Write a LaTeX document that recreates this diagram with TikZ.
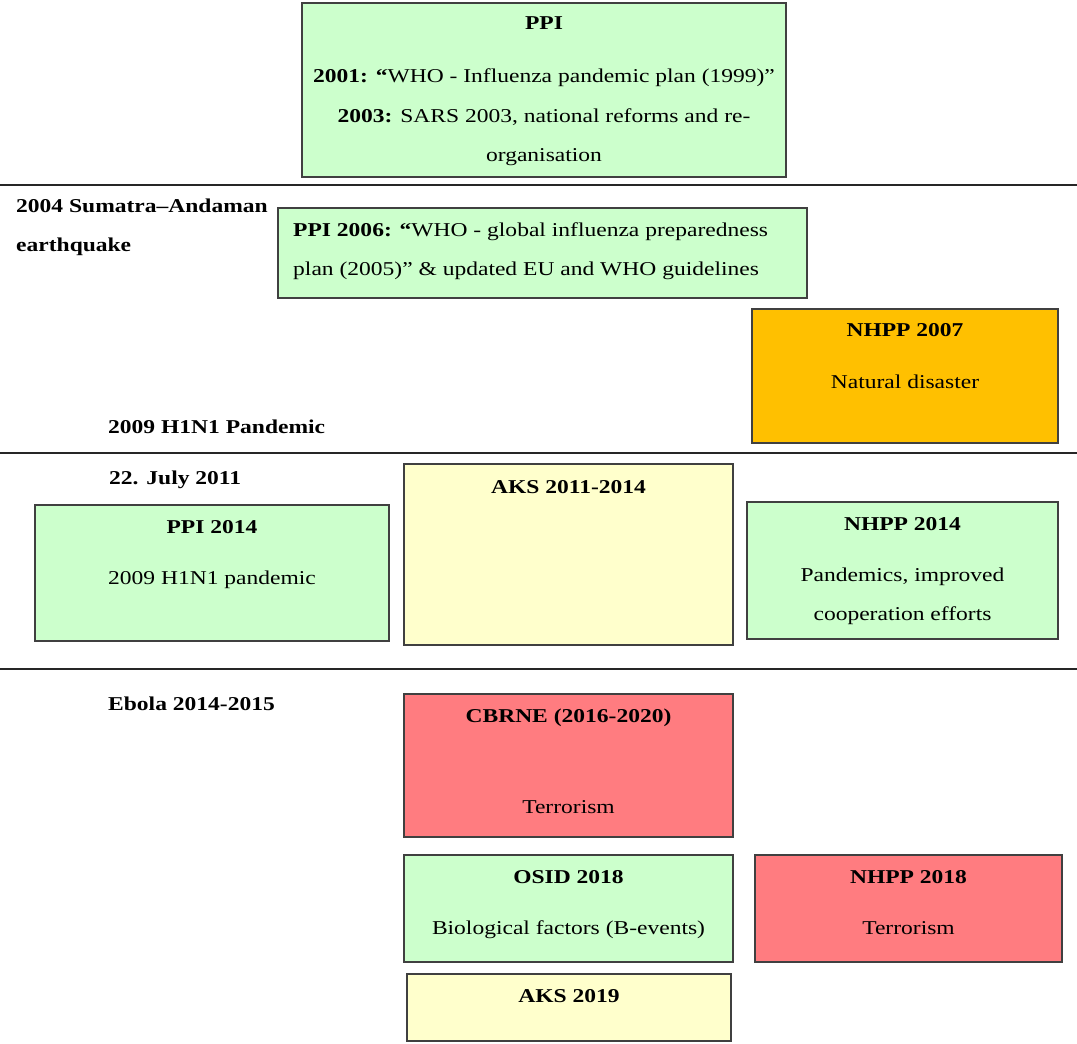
\documentclass[tikz,border=0pt]{standalone}
\usepackage{fontspec}
\setmainfont{Liberation Serif}[FakeStretch=1.2]
\usepackage{tikz}
\usetikzlibrary{positioning}
\definecolor{plangreen}{HTML}{CCFFCC}
\definecolor{planyellow}{HTML}{FFFFCC}
\definecolor{planorange}{HTML}{FFC000}
\definecolor{planred}{HTML}{FF7C80}
\definecolor{frame}{HTML}{404040}

\begin{document}
\begin{tikzpicture}[x=1pt, y=1pt,
  planbox/.style={draw=frame, line width=1.2pt, inner sep=0pt, outer sep=0pt},
  head/.style={anchor=base, inner sep=0pt, font=\fontsize{19.6}{40}\selectfont\bfseries},
  body/.style={anchor=base, inner sep=0pt, font=\fontsize{19.6}{40}\selectfont},
  event/.style={anchor=base west, inner sep=0pt, font=\fontsize{19.6}{40}\selectfont\bfseries},
  period/.style={line width=2pt, black!85}]
\useasboundingbox (0,0) rectangle (1077,-1044);

% Period 1: before 2004
\node[planbox, fill=plangreen, minimum width=484, minimum height=174] (ppi) at (544,-90) {};
\node[head] (ppiT) at ([yshift=-27]ppi.north) {PPI};
\node[body] (ppiA) at ([yshift=-79]ppi.north) {\textbf{2001: “}WHO - Influenza pandemic plan (1999)”};
\node[body] (ppiB) at ([yshift=-119]ppi.north) {\textbf{2003:} SARS 2003, national reforms and re-};
\node[body] (ppiC) at ([yshift=-158]ppi.north) {organisation};

\draw[period] (0,-185) -- (1077,-185);

% Period 2: 2004 -- 2009
\node[event] (sumatra) at (16,-212) {2004 Sumatra–Andaman};
\node[event] (quake) at (16,-251) {earthquake};
\node[planbox, fill=plangreen, minimum width=529, minimum height=90] (ppi06) at (542.5,-253) {};
\node[body, anchor=base west] (ppi06A) at ([xshift=15, yshift=-28]ppi06.north west) {\textbf{PPI 2006: “}WHO - global influenza preparedness};
\node[body, anchor=base west] (ppi06B) at ([xshift=15, yshift=-67]ppi06.north west) {plan (2005)” \& updated EU and WHO guidelines};
\node[planbox, fill=planorange, minimum width=306, minimum height=134] (nhpp07) at (905,-376) {};
\node[head] (nhpp07T) at ([yshift=-27]nhpp07.north) {NHPP 2007};
\node[body] (nhpp07A) at ([yshift=-79]nhpp07.north) {Natural disaster};
\node[event] (hflu) at (108,-433) {2009 H1N1 Pandemic};

\draw[period] (0,-453) -- (1077,-453);

% Period 3: 2011 -- 2014
\node[event] (july) at (109,-484) {22. July 2011};
\node[planbox, fill=plangreen, minimum width=354, minimum height=136] (ppi14) at (212,-573) {};
\node[head] (ppi14T) at ([yshift=-28]ppi14.north) {PPI 2014};
\node[body] (ppi14A) at ([yshift=-79]ppi14.north) {2009 H1N1 pandemic};
\node[planbox, fill=planyellow, minimum width=329, minimum height=181] (aks11) at (568.5,-554.5) {};
\node[head] (aks11T) at ([yshift=-29]aks11.north) {AKS 2011-2014};
\node[planbox, fill=plangreen, minimum width=311, minimum height=137] (nhpp14) at (902.5,-570.5) {};
\node[head] (nhpp14T) at ([yshift=-28]nhpp14.north) {NHPP 2014};
\node[body] (nhpp14A) at ([yshift=-79]nhpp14.north) {Pandemics, improved};
\node[body] (nhpp14B) at ([yshift=-118]nhpp14.north) {cooperation efforts};

\draw[period] (0,-669) -- (1077,-669);

% Period 4: 2014 onwards
\node[event] (ebola) at (108,-710) {Ebola 2014-2015};
\node[planbox, fill=planred, minimum width=329, minimum height=143] (cbrne) at (568.5,-765.5) {};
\node[head] (cbrneT) at ([yshift=-28]cbrne.north) {CBRNE (2016-2020)};
\node[body] (cbrneA) at ([yshift=-119]cbrne.north) {Terrorism};
\node[planbox, fill=plangreen, minimum width=329, minimum height=107] (osid) at (568.5,-908.5) {};
\node[head] (osidT) at ([yshift=-28]osid.north) {OSID 2018};
\node[body] (osidA) at ([yshift=-79]osid.north) {Biological factors (B-events)};
\node[planbox, fill=planred, minimum width=307, minimum height=107] (nhpp18) at (908.5,-908.5) {};
\node[head] (nhpp18T) at ([yshift=-28]nhpp18.north) {NHPP 2018};
\node[body] (nhpp18A) at ([yshift=-79]nhpp18.north) {Terrorism};
\node[planbox, fill=planyellow, minimum width=324, minimum height=67] (aks19) at (569,-1007.5) {};
\node[head] (aks19T) at ([yshift=-28]aks19.north) {AKS 2019};
\end{tikzpicture}
\end{document}
